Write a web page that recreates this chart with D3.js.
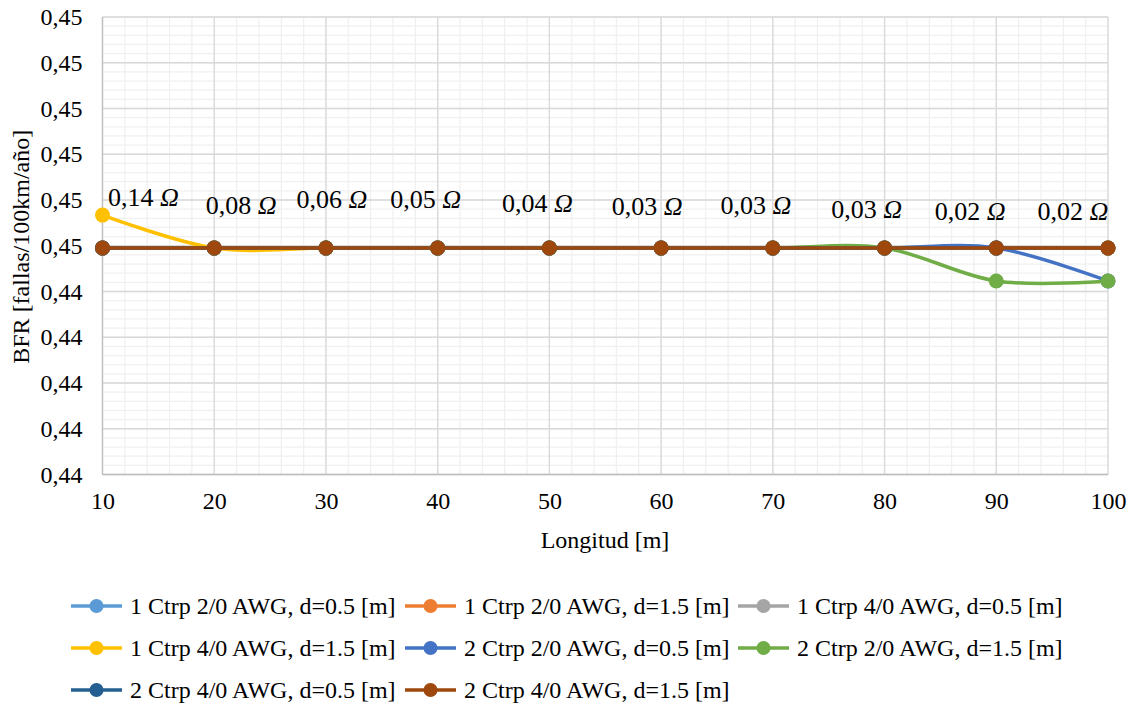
<!DOCTYPE html>
<html>
<head>
<meta charset="utf-8">
<script src="https://cdn.jsdelivr.net/npm/d3@7"></script>
<style>
  body { margin: 0; background: #fff; }
  svg, svg text { font-family: 'Liberation Serif', 'Times New Roman', serif; }
</style>
</head>
<body>
<svg id="chart" width="1133" height="709"></svg>
<script>
// longitud [m]
let lengths = [10, 20, 30, 40, 50, 60, 70, 80, 90, 100];

let seriesNames = [
  "1 Ctrp 2/0 AWG, d=0.5 [m]",
  "1 Ctrp 2/0 AWG, d=1.5 [m]",
  "1 Ctrp 4/0 AWG, d=0.5 [m]",
  "1 Ctrp 4/0 AWG, d=1.5 [m]",
  "2 Ctrp 2/0 AWG, d=0.5 [m]",
  "2 Ctrp 2/0 AWG, d=1.5 [m]",
  "2 Ctrp 4/0 AWG, d=0.5 [m]",
  "2 Ctrp 4/0 AWG, d=1.5 [m]"
];

let seriesColors = ["#5B9BD5", "#ED7D31", "#A5A5A5", "#FFC000", "#4472C4", "#70AD47", "#255E91", "#9E480E"];

// BFR values
let bfr1c20d05 = [0.44495, 0.44495, 0.44495, 0.44495, 0.44495, 0.44495, 0.44495, 0.44495, 0.44495, 0.44495];
let bfr1c20d15 = [0.44495, 0.44495, 0.44495, 0.44495, 0.44495, 0.44495, 0.44495, 0.44495, 0.44495, 0.44495];
let bfr1c40d05 = [0.44495, 0.44495, 0.44495, 0.44495, 0.44495, 0.44495, 0.44495, 0.44495, 0.44495, 0.44495];
let bfr1c40d15 = [0.44567, 0.44495, 0.44495, 0.44495, 0.44495, 0.44495, 0.44495, 0.44495, 0.44495, 0.44495];
let bfr2c20d05 = [0.44495, 0.44495, 0.44495, 0.44495, 0.44495, 0.44495, 0.44495, 0.44495, 0.44495, 0.44423];
let bfr2c20d15 = [0.44495, 0.44495, 0.44495, 0.44495, 0.44495, 0.44495, 0.44495, 0.44495, 0.44423, 0.44423];
let bfr2c40d05 = [0.44495, 0.44495, 0.44495, 0.44495, 0.44495, 0.44495, 0.44495, 0.44495, 0.44495, 0.44495];
let bfr2c40d15 = [0.44495, 0.44495, 0.44495, 0.44495, 0.44495, 0.44495, 0.44495, 0.44495, 0.44495, 0.44495];

let seriesValues = [bfr1c20d05, bfr1c20d15, bfr1c40d05, bfr1c40d15, bfr2c20d05, bfr2c20d15, bfr2c40d05, bfr2c40d15];

// resistance labels above the points
let labelTexts = ["0,14 Ω", "0,08 Ω", "0,06 Ω", "0,05 Ω", "0,04 Ω", "0,03 Ω", "0,03 Ω", "0,03 Ω", "0,02 Ω", "0,02 Ω"];
let labelShift = [[41, -51], [27, -43], [6, -49], [-12, -49], [-12, -45], [-14, -42], [-17, -43], [-18, -39], [-26, -37], [-35, -37]];

let yTicks = [0.440, 0.441, 0.442, 0.443, 0.444, 0.445, 0.446, 0.447, 0.448, 0.449, 0.450];
let xTicks = [10, 20, 30, 40, 50, 60, 70, 80, 90, 100];

let FONT = "'Liberation Serif', 'Times New Roman', serif";

let svg = d3.select("#chart");
let margin = {left: 102.5, right: 25, top: 17, bottom: 234.5};
let width = +svg.attr("width");
let height = +svg.attr("height");
let plotW = width - margin.left - margin.right;
let plotH = height - margin.top - margin.bottom;

let x = d3.scaleLinear().domain([10, 100]).range([margin.left, margin.left + plotW]);
let y = d3.scaleLinear().domain([0.440, 0.450]).range([margin.top + plotH, margin.top]);

let fmt = v => d3.format(".2f")(v + 1e-9).replace(".", ",");

// minor grid
let minorX = d3.range(10, 100.001, 2);
let minorY = d3.range(0, 51).map(i => 0.440 + i * 0.0002);
let grid = svg.append("g");
grid.selectAll(".mx").data(minorX).enter().append("line")
  .attr("x1", d => x(d)).attr("x2", d => x(d))
  .attr("y1", margin.top).attr("y2", margin.top + plotH)
  .attr("stroke", "#f0f0f0").attr("stroke-width", 1.3);
grid.selectAll(".my").data(minorY).enter().append("line")
  .attr("x1", margin.left).attr("x2", margin.left + plotW)
  .attr("y1", d => y(d)).attr("y2", d => y(d))
  .attr("stroke", "#f0f0f0").attr("stroke-width", 1.3);

// major grid
grid.selectAll(".gx").data(xTicks).enter().append("line")
  .attr("x1", d => x(d)).attr("x2", d => x(d))
  .attr("y1", margin.top).attr("y2", margin.top + plotH)
  .attr("stroke", "#d9d9d9").attr("stroke-width", 1.3);
grid.selectAll(".gy").data(yTicks).enter().append("line")
  .attr("x1", margin.left).attr("x2", margin.left + plotW)
  .attr("y1", d => y(d)).attr("y2", d => y(d))
  .attr("stroke", "#d9d9d9").attr("stroke-width", 1.3);

// axis lines
svg.append("line")
  .attr("x1", margin.left).attr("x2", margin.left)
  .attr("y1", margin.top).attr("y2", margin.top + plotH)
  .attr("stroke", "#bfbfbf").attr("stroke-width", 1.3);
svg.append("line")
  .attr("x1", margin.left).attr("x2", margin.left + plotW)
  .attr("y1", margin.top + plotH).attr("y2", margin.top + plotH)
  .attr("stroke", "#bfbfbf").attr("stroke-width", 1.3);

// axes
let yAxis = d3.axisLeft(y).tickValues(yTicks).tickFormat(fmt).tickSize(0).tickPadding(20);
let gy = svg.append("g").attr("transform", `translate(${margin.left},0)`).call(yAxis);
gy.select(".domain").remove();
gy.attr("font-family", null).attr("font-size", null);
gy.selectAll("text").style("font-size", "24px").style("font-family", FONT).attr("fill", "#000");

let xAxis = d3.axisBottom(x).tickValues(xTicks).tickSize(0).tickPadding(17);
let gx = svg.append("g").attr("transform", `translate(0,${margin.top + plotH})`).call(xAxis);
gx.select(".domain").remove();
gx.attr("font-family", null).attr("font-size", null);
gx.selectAll("text").style("font-size", "24px").style("font-family", FONT).attr("fill", "#000");

// axis titles
svg.append("text").attr("x", 605).attr("y", 540).attr("dy", "0.35em")
  .attr("text-anchor", "middle").style("font-size", "24px").style("font-family", FONT)
  .text("Longitud [m]");
svg.append("text")
  .attr("transform", `translate(21,${margin.top + plotH / 2 + 1}) rotate(-90)`)
  .attr("dy", "0.35em")
  .attr("text-anchor", "middle").style("font-size", "24px").style("font-family", FONT)
  .text("BFR [fallas/100km/año]");

// series
let line = d3.line()
  .x((d, i) => x(lengths[i]))
  .y(d => y(d))
  .curve(d3.curveCardinal.tension(0));

let series = svg.append("g").selectAll(".series").data(seriesValues).enter()
  .append("g").attr("class", "series");
series.append("path")
  .attr("d", d => line(d))
  .attr("fill", "none")
  .attr("stroke", (d, i) => seriesColors[i])
  .attr("stroke-width", 3.5)
  .attr("stroke-linecap", "round");
series.each(function(vals, si) {
  d3.select(this).selectAll("circle").data(vals).enter().append("circle")
    .attr("cx", (d, i) => x(lengths[i]))
    .attr("cy", d => y(d))
    .attr("r", 7.5)
    .attr("fill", seriesColors[si]);
});

// data labels (resistance)
let base = seriesValues[7];
svg.append("g").selectAll("text").data(labelTexts).enter().append("text")
  .attr("x", (d, i) => x(lengths[i]) + labelShift[i][0])
  .attr("y", (d, i) => y(base[i]) + labelShift[i][1])
  .attr("dy", "0.35em")
  .attr("text-anchor", "middle")
  .style("font-size", "26px").style("font-family", FONT)
  .each(function(d) {
    let parts = d.split(" ");
    d3.select(this).append("tspan").text(parts[0] + " ");
    d3.select(this).append("tspan").style("font-style", "italic").text(parts[1]);
  });

// legend
let legendCols = [71, 405, 738];
let legendRows = [606, 648, 690];
let legend = svg.append("g").selectAll(".leg").data(seriesNames).enter().append("g")
  .attr("transform", (d, i) => `translate(${legendCols[i % 3]},${legendRows[Math.floor(i / 3)]})`);
legend.append("line").attr("x1", 0).attr("x2", 51).attr("y1", 0).attr("y2", 0)
  .attr("stroke", (d, i) => seriesColors[i]).attr("stroke-width", 3.5);
legend.append("circle").attr("cx", 25.5).attr("cy", 0).attr("r", 7)
  .attr("fill", (d, i) => seriesColors[i]);
legend.append("text").attr("x", 59).attr("y", 0).attr("dy", "0.35em")
  .style("font-size", "24px").style("font-family", FONT).text(d => d);
</script>
</body>
</html>
